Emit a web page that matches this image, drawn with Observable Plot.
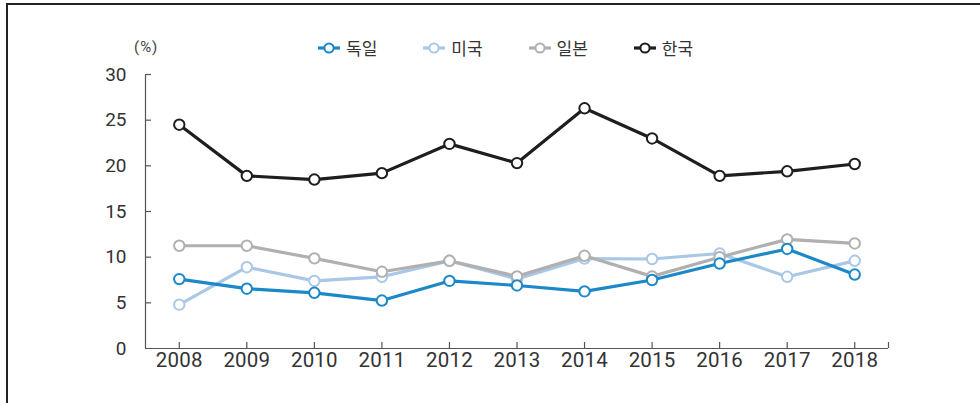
<!DOCTYPE html>
<html><head><meta charset="utf-8">
<script src="https://cdn.jsdelivr.net/npm/d3@7"></script>
<script src="https://cdn.jsdelivr.net/npm/@observablehq/plot@0.6"></script>
<style>
html,body{margin:0;padding:0;background:#fff;}
#wrap{position:relative;width:980px;height:403px;overflow:hidden;font-family:Roboto,"Noto Sans","Noto Sans CJK KR",sans-serif;}
#frame{position:absolute;left:6px;top:3px;right:-4px;bottom:-4px;border-top:2px solid #222;border-left:2px solid #222;}
#unit{position:absolute;left:134px;top:38px;font-size:15px;color:#444;letter-spacing:1px;}
#legend{position:absolute;left:318px;top:35px;display:flex;font-family:"Noto Sans CJK KR",sans-serif;font-size:17px;color:#333;}
.item{display:flex;align-items:center;margin-right:46px;}
.item svg{margin-right:6px;}
#chart{position:absolute;left:0;top:0;}
#chart g[aria-label="x-axis tick label"] text{font-size:20.5px !important;letter-spacing:0.2px;}
#chart g[aria-label="y-axis tick label"] text{font-size:19px !important;}
</style></head>
<body><div id="wrap"><div id="frame"></div><div id="unit">(%)</div><div id="legend"></div><div id="chart"></div></div>
<script>
const years = [2008,2009,2010,2011,2012,2013,2014,2015,2016,2017,2018];
const germany = [7.6,6.55,6.1,5.25,7.4,6.9,6.25,7.5,9.3,10.9,8.1];
const usa     = [4.8,8.9,7.4,7.85,9.6,7.6,9.85,9.8,10.4,7.85,9.6];
const japan   = [11.25,11.25,9.87,8.4,9.6,7.9,10.15,7.9,10.0,11.95,11.5];
const korea   = [24.5,18.9,18.5,19.2,22.4,20.3,26.3,23.0,18.9,19.4,20.2];
const seriesNames = ["독일","미국","일본","한국"];
const seriesColors = ["#1b88c8","#a9c7e7","#b0b0b0","#1e1e1e"];
const yTicks = [0,5,10,15,20,25,30];

const seriesValues = [germany, usa, japan, korea];
const drawOrder = [1,2,0,3];

const W = 980, H = 403;
const mL = 145, mR = 92, mT = 74, mB = 55;
const pxPerY = (H - mT - mB) / 30;
const pxPerX = (W - mL - mR) / 11;
const tickLen = 6;

const marks = [
  Plot.ruleY([0], {stroke:"#555", strokeWidth:1.2}),
  Plot.ruleX([years[0]-0.5], {stroke:"#555", strokeWidth:1.2}),
  Plot.ruleX([...years, years[years.length-1]+0.5], {x:d=>d, y1:0, y2:tickLen/pxPerY, stroke:"#555", strokeWidth:1.2}),
  Plot.ruleY(yTicks.slice(1), {y:d=>d, x1:years[0]-0.5, x2:years[0]-0.5+tickLen/pxPerX, stroke:"#555", strokeWidth:1.2}),
  Plot.axisX({ticks: years, tickSize:0, tickPadding:4, tickFormat:d=>String(d), fill:"#333", label:null}),
  Plot.axisY({ticks: yTicks, tickSize:0, tickPadding:19, fill:"#333", label:null})
];
for (const i of drawOrder) {
  const data = years.map((y,j)=>({year:y, value:seriesValues[i][j]}));
  marks.push(Plot.line(data, {x:"year", y:"value", stroke:seriesColors[i], strokeWidth:3.2}));
  marks.push(Plot.dot(data, {x:"year", y:"value", r:5.2, fill:"white", stroke:seriesColors[i], strokeWidth:2}));
}

const chart = Plot.plot({
  width: W, height: H,
  marginLeft: mL, marginRight: mR, marginTop: mT, marginBottom: mB,
  style: {background:"transparent", fontFamily:"Roboto, 'Noto Sans', sans-serif"},
  x: {type:"linear", domain:[years[0]-0.5, years[years.length-1]+0.5], axis:null},
  y: {domain:[0,30], axis:null},
  marks
});
document.getElementById("chart").appendChild(chart);

const legend = document.getElementById("legend");
seriesNames.forEach((name,i)=>{
  const item = document.createElement("div");
  item.className = "item";
  item.innerHTML = `<svg width="22" height="12"><line x1="0" y1="6" x2="22" y2="6" stroke="${seriesColors[i]}" stroke-width="3.2"/><circle cx="11" cy="6" r="4.6" fill="white" stroke="${seriesColors[i]}" stroke-width="2"/></svg><span>${name}</span>`;
  legend.appendChild(item);
});
</script></body></html>
